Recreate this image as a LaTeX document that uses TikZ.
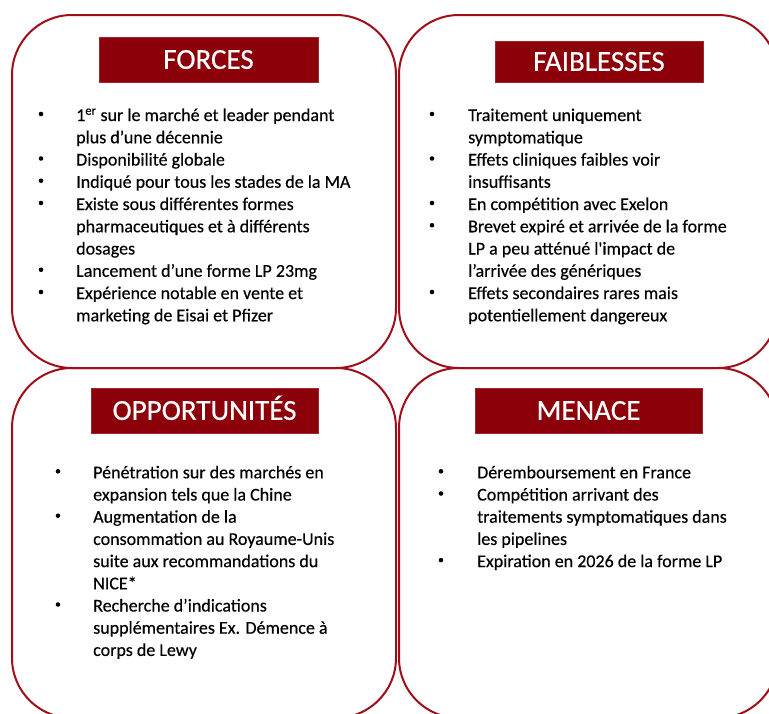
\documentclass[tikz,border=0pt]{standalone}
\usepackage{fontspec}
\setmainfont{Carlito}[Ligatures=TeXOff]
\newfontfamily\bodyfont{Carlito}[Ligatures=TeXOff,FakeBold=0.35]
\newfontfamily\headfont{Carlito}[Ligatures=TeXOff,FakeBold=0.5]
\definecolor{swotred}{RGB}{140,0,10}
\definecolor{swotline}{RGB}{160,15,25}
\tikzset{
  panel/.style={draw=swotline, line width=2pt, rounded corners=60pt},
  titlebox/.style={fill=swotred, draw=swotred!85!white, line width=0.6pt, text=white,
     font=\headfont\fontsize{29}{34}\selectfont, inner sep=0pt, minimum height=45pt,
     text height=18.7pt, text depth=0pt},
  bodytext/.style={anchor=base west, inner sep=0pt, font=\bodyfont\fontsize{18}{22}\selectfont, text=black},
  bulletmark/.style={circle, fill=black, inner sep=0pt, minimum size=4.6pt}
}
\begin{document}
\begin{tikzpicture}[x=1pt,y=-1pt]
\useasboundingbox (0,0) rectangle (769,713);
\clip (0,0) rectangle (769,713);
\fill[white] (0,0) rectangle (769,713);
% panels
\draw[panel] (12,15) rectangle (396,368);
\draw[panel] (399,15) rectangle (778,368);
\draw[panel] (12,368) rectangle (396,718);
\draw[panel] (399,368) rectangle (778,718);
% titles
\node[titlebox, minimum width=219pt] (tforces) at (208.5,59.5) {FORCES};
\node[titlebox, minimum width=208pt, minimum height=41pt] (tfaib) at (599,61.5) {FAIBLESSES};
\node[titlebox, minimum width=227pt] (topp) at (204.5,410.5) {OPPORTUNITÉS};
\node[titlebox, minimum width=227pt] (tmen) at (588.5,410.5) {MENACE};
% FORCES
\foreach \txt/\hasb [count=\i from 0] in {
  {1\textsuperscript{er} sur le marché et leader pendant}/1,
  {plus d’une décennie}/0,
  {Disponibilité globale}/1,
  {Indiqué pour tous les stades de la MA}/1,
  {Existe sous différentes formes}/1,
  {pharmaceutiques et à différents}/0,
  {dosages}/0,
  {Lancement d’une forme LP 23mg}/1,
  {Expérience notable en vente et}/1,
  {marketing de Eisai et Pfizer}/0}{
  \node[bodytext] (fl\i) at (76,121+22.25*\i) {\txt};
  \ifnum\hasb=1 \node[bulletmark] (fb\i) at (41,114+22.25*\i) {};\fi
}
% FAIBLESSES
\foreach \txt/\hasb [count=\i from 0] in {
  {Traitement uniquement}/1,
  {symptomatique}/0,
  {Effets cliniques faibles voir}/1,
  {insuffisants}/0,
  {En compétition avec Exelon}/1,
  {Brevet expiré et arrivée de la forme}/1,
  {LP a peu atténué l'impact de}/0,
  {l’arrivée des génériques}/0,
  {Effets secondaires rares mais}/1,
  {potentiellement dangereux}/0}{
  \node[bodytext] (wl\i) at (468,121+22.25*\i) {\txt};
  \ifnum\hasb=1 \node[bulletmark] (wb\i) at (432,114+22.25*\i) {};\fi
}
% OPPORTUNITES
\foreach \txt/\hasb [count=\i from 0] in {
  {Pénétration sur des marchés en}/1,
  {expansion tels que la Chine}/0,
  {Augmentation de la}/1,
  {consommation au Royaume-Unis}/0,
  {suite aux recommandations du}/0,
  {NICE*}/0,
  {Recherche d’indications}/1,
  {supplémentaires Ex. Démence à}/0,
  {corps de Lewy}/0}{
  \node[bodytext] (ol\i) at (93,478.3+22.2*\i) {\txt};
  \ifnum\hasb=1 \node[bulletmark] (ob\i) at (58,471.3+22.2*\i) {};\fi
}
% MENACE
\foreach \txt/\hasb [count=\i from 0] in {
  {Déremboursement en France}/1,
  {Compétition arrivant des}/1,
  {traitements symptomatiques dans}/0,
  {les pipelines}/0,
  {Expiration en 2026 de la forme LP}/1}{
  \node[bodytext] (ml\i) at (477,478.3+22.2*\i) {\txt};
  \ifnum\hasb=1 \node[bulletmark] (mb\i) at (441,471.3+22.2*\i) {};\fi
}
\end{tikzpicture}
\end{document}
